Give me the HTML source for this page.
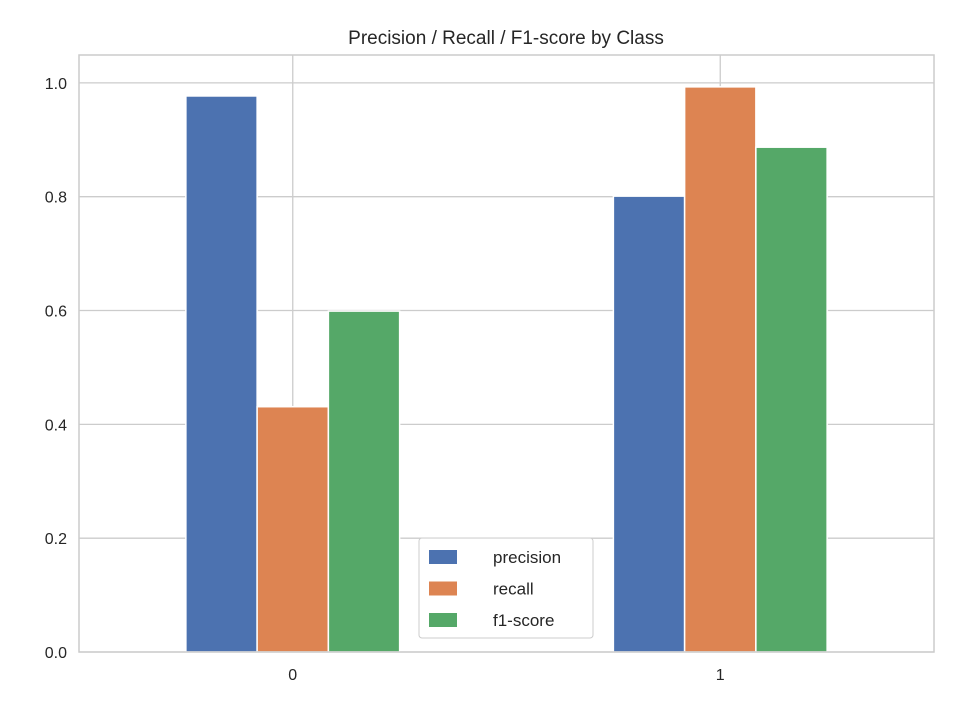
<!DOCTYPE html>
<html><head><meta charset="utf-8"><style>
html,body{margin:0;padding:0;background:#fff;}
svg{display:block;font-family:"Liberation Sans","DejaVu Sans",sans-serif;}
</style></head><body>
<svg id="chart" width="960" height="720" viewBox="0 0 960 720">
<text x="506" y="44" text-anchor="middle" font-size="19" fill="#262626">Precision / Recall / F1-score by Class</text>
<g id="grid"></g><g id="bars"></g><g id="ticks"></g>
<rect x="79" y="55" width="855" height="597" fill="none" stroke="#cccccc" stroke-width="1.5"/>
<g id="legend"></g>
</svg>
<script>
const categories = ["0", "1"];
const seriesNames = ["precision", "recall", "f1-score"];
const precision = [0.977, 0.801];
const recall = [0.431, 0.993];
const f1 = [0.599, 0.887];
const yTicks = [0.0, 0.2, 0.4, 0.6, 0.8, 1.0];
const colors = ["#4c72b0", "#dd8452", "#55a868"];
const NS = "http://www.w3.org/2000/svg";
const L=79,R=934,T=55,B=652, yMax=1.049;
const xScale = i => L + (i + 0.5) / categories.length * (R - L);
const yScale = v => B - v / yMax * (B - T);
const groupW = (R - L) / categories.length * 0.5;
function mk(tag, attrs, parent){const e=document.createElementNS(NS,tag);for(const k in attrs)e.setAttribute(k,attrs[k]);parent.appendChild(e);return e;}
const grid=document.getElementById('grid'), bars=document.getElementById('bars'), ticks=document.getElementById('ticks'), legend=document.getElementById('legend');
yTicks.forEach(v=>{
  const y=yScale(v);
  const l=mk('line',{x1:L,x2:R,y1:y,y2:y,stroke:'#cccccc','stroke-width':1.3},grid);
  
  
  const t=mk('text',{x:L-12,y:y+6,'text-anchor':'end','font-size':16,fill:'#262626'},ticks);
  t.textContent=v.toFixed(1);
  
  
});
categories.forEach((c,i)=>{
  const x=xScale(i);
  const l=mk('line',{x1:x,x2:x,y1:T,y2:B,stroke:'#cccccc','stroke-width':1.3},grid);
  
  
  const t=mk('text',{x:x,y:B+28,'text-anchor':'middle','font-size':16,fill:'#262626'},ticks);
  t.textContent=c;
  
  
});
const series=[precision,recall,f1];
const bw=groupW/3;
series.forEach((s,si)=>{
  s.forEach((v,i)=>{
    const x=xScale(i)-groupW/2+si*bw;
    const r=mk('rect',{x:x,y:yScale(v),width:bw,height:B-yScale(v),fill:colors[si],stroke:'#ffffff','stroke-width':1.5},bars);
    
    
  });
});
const box=mk('rect',{x:419,y:538,width:174,height:100,rx:3,fill:'#ffffff','fill-opacity':0.85,stroke:'#cccccc'},legend);


seriesNames.forEach((n,si)=>{
  const y=557+si*31.5;
  const p=mk('rect',{x:429,y:y-7,width:28,height:14,fill:colors[si]},legend);
  
  
  const t=mk('text',{x:493,y:y+6,'font-size':17,fill:'#262626'},legend);
  t.textContent=n;
  
  
});
</script>
</body></html>
